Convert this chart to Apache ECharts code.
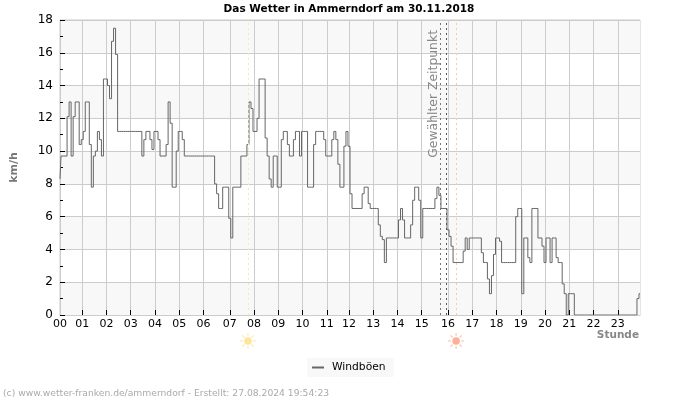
<!DOCTYPE html>
<html><head><meta charset="utf-8">
<style>html,body{margin:0;padding:0;background:#fff}#c{width:700px;height:400px}</style>
<script src="https://cdn.jsdelivr.net/npm/echarts@6/dist/echarts.min.js"></script>
</head><body><div id="c"></div>
<script>
const titleText = 'Das Wetter in Ammerndorf am 30.11.2018';
const footerText = '(c) www.wetter-franken.de/ammerndorf - Erstellt: 27.08.2024 19:54:23';
const seriesName = 'Windböen';
const hourLabels = ['00','01','02','03','04','05','06','07','08','09','10','11','12','13','14','15','16','17','18','19','20','21','22','23'];
const hourSampleIndex = [0,11,23,35,47,59,71,84,96,108,120,132,143,155,167,179,192,204,216,228,240,252,264,276];
const gusts = [
 8.3,9.7,9.7,9.7,12.1,13,9.7,12.1,13,13,10.4,10.7,
 11.2,13,13,10.4,7.8,9.7,10,11.2,10.7,9.7,14.4,14.4,
 14,13.2,16.7,17.5,15.9,11.2,11.2,11.2,11.2,11.2,11.2,11.2,
 11.2,11.2,11.2,11.2,11.2,9.7,10.7,11.2,11.2,10.7,10.1,11.2,
 11.2,10.7,9.7,9.7,9.7,10.4,13,11.7,7.8,7.8,10,11.2,
 11.2,10.7,9.7,9.7,9.7,9.7,9.7,9.7,9.7,9.7,9.7,9.7,
 9.7,9.7,9.7,9.7,9.7,8,7.4,6.5,6.5,7.8,7.8,7.8,
 5.9,4.7,7.8,7.8,7.8,7.8,9.7,9.7,9.7,10.4,13,12.6,
 11.2,11.2,12,14.4,14.4,14.4,10.8,9.7,8.3,7.8,9.7,9.7,
 7.8,7.8,10.7,11.2,11.2,10.4,9.7,9.7,10.7,11.2,11.2,9.7,
 11.2,11.2,11.2,7.8,7.8,7.8,10.4,11.2,11.2,11.2,11.2,10.7,
 9.7,9.7,9.7,10.7,11.2,10.7,9.2,7.8,7.8,10.3,11.2,10.3,
 7.4,6.5,6.5,6.5,6.5,6.5,7.4,7.8,7.8,6.8,6.5,6.5,
 6.5,6.5,5.5,4.8,4.6,3.2,4.7,4.7,4.7,4.7,4.7,4.7,
 5.8,6.5,5.8,4.7,4.7,4.7,5.5,7,7.8,7.8,7,4.7,
 6.5,6.5,6.5,6.5,6.5,6.5,7.1,7.8,7.3,6.5,6.5,6.5,
 5.2,4.8,4.2,3.2,3.2,3.2,3.2,3.2,3.9,4.7,4,4.7,
 4.7,4.7,4.7,4.7,4.7,3.8,3.2,3.2,2.2,1.3,2.4,3.7,
 4.7,4.7,4.5,3.2,3.2,3.2,3.2,3.2,3.2,3.2,6,6.5,
 6.5,1.3,4.7,4.7,3.5,3.2,6.5,6.5,6.5,4.7,4.7,4.2,
 3.2,4.7,4.7,3.2,4.7,4.7,3.5,3.2,3.2,1.9,1.3,0,
 1.3,1.3,1.3,0,0,0,0,0,0,0,0,0,
 0,0,0,0,0,0,0,0,0,0,0,0,
 0,0,0,0,0,0,0,0,0,0,1,1.3
];
const sunriseIndex = 93.4, sunsetIndex = 196.4;
const selectedIndex = [188.3, 191.4];
const selectedLabel = 'Gewählter Zeitpunkt';
const yTicks = {min:0, max:18, interval:2};

const categories = gusts.map((_, i) => {
  const h = hourSampleIndex.indexOf(i);
  return h >= 0 ? hourLabels[h] : String(i);
});
const isHour = i => hourSampleIndex.includes(i);
const font = 'DejaVu Sans';
const chart = echarts.init(document.getElementById('c'), null, {renderer:'canvas'});
const vline = (x, color, extra) => Object.assign({xAxis:x, lineStyle:{color, type:[2,3], width:1}, label:{show:false}}, extra||{});
chart.setOption({
  animation:false,
  textStyle:{fontFamily:font},
  title:{text:titleText, left:344, top:-1, textAlign:'center',
    textStyle:{fontFamily:font, fontSize:10.5, fontWeight:'bold', color:'#000'}},
  grid:{left:60, right:60, top:20, bottom:85, show:true, borderColor:'#ccc', borderWidth:1, backgroundColor:'transparent'},
  legend:{show:true, left:307, top:358, data:[{name:seriesName, icon:'rect'}], itemWidth:12, itemHeight:2, itemGap:6,
    backgroundColor:'#f8f8f8', padding:[4,8,4,5], borderRadius:0,
    textStyle:{fontFamily:font, fontSize:10.7, color:'#000', padding:[0,0,0,3]}},
  xAxis:{type:'category', data:categories, boundaryGap:false,
    name:'Stunde', nameLocation:'end', nameGap:1, nameMoveOverlap:false,
    nameTextStyle:{fontFamily:font, fontSize:10.5, fontWeight:'bold', color:'#888', align:'right', verticalAlign:'top', padding:[15,2,0,0]},
    axisLine:{lineStyle:{color:'#ccc'}},
    axisTick:{show:true, inside:true, length:5, interval:(i)=>isHour(i)&&i>0, lineStyle:{color:'#000'}},
    axisLabel:{show:true, interval:(i)=>isHour(i), margin:4, hideOverlap:false, showMinLabel:true, showMaxLabel:true,
      fontFamily:font, fontSize:11, color:'#000'},
    splitLine:{show:true, interval:(i)=>isHour(i), lineStyle:{color:'#ccc'}}
  },
  yAxis:{type:'value', min:yTicks.min, max:yTicks.max, interval:yTicks.interval,
    name:'km/h', nameLocation:'middle', nameGap:40, nameRotate:90,
    nameTextStyle:{fontFamily:font, fontSize:11, fontWeight:'bold', color:'#777'},
    axisLine:{show:true, lineStyle:{color:'#ccc'}},
    axisTick:{show:true, inside:true, length:5, lineStyle:{color:'#000'}},
    minorTick:{show:true, splitNumber:2, length:3, lineStyle:{color:'#000'}},
    axisLabel:{margin:7, fontFamily:font, fontSize:12, color:'#000'},
    splitLine:{show:true, lineStyle:{color:'#ccc'}},
    splitArea:{show:true, areaStyle:{color:['#f8f8f8','#ffffff']}}
  },
  series:[{name:seriesName, type:'line', data:gusts, showSymbol:false, symbol:'none', smooth:false, step:'middle',
    lineStyle:{color:'#666', width:1}, itemStyle:{color:'#666'}, silent:true,
    markLine:{silent:true, symbol:'none', animation:false, data:[
      vline(selectedIndex[0], '#777', {label:{show:true, formatter:selectedLabel, position:'insideEndTop', distance:0,
        offset:[-10,0], fontFamily:font, fontSize:12.4, color:'#888'}}),
      vline(selectedIndex[1], '#555'),
      vline(sunriseIndex, '#f5ecb0'),
      vline(sunsetIndex, '#f8cf90')
    ]}
  }]
});
function sun(x, y, color, rayColor){
  const rays = [];
  for (let a=0;a<8;a++){
    const t=a*Math.PI/4;
    rays.push({type:'line', shape:{x1:x+Math.cos(t)*5,y1:y+Math.sin(t)*5,x2:x+Math.cos(t)*8,y2:y+Math.sin(t)*8},
      style:{stroke:rayColor,lineWidth:1.2}, silent:true});
  }
  rays.push({type:'circle', shape:{cx:x,cy:y,r:3.8}, style:{fill:color}, silent:true});
  return rays;
}
const px = i => chart.convertToPixel({xAxisIndex:0}, i);
chart.setOption({graphic:[
  ...sun(px(sunriseIndex)||249, 341, '#fde59a', '#fdeab0'),
  ...sun(px(sunsetIndex)||457, 341, '#fbb09a', '#fcc8b4'),
  {type:'text', left:3, top:389, silent:true, style:{text:footerText, fontFamily:font, fontSize:9.2, fill:'#aaa'}}
]});
</script></body></html>
